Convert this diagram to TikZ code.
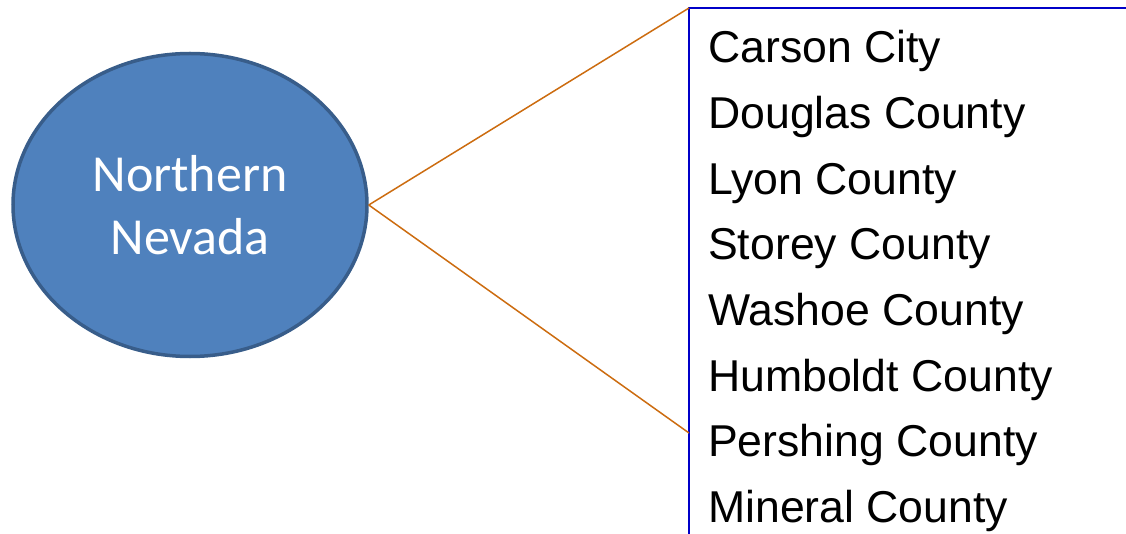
\documentclass[tikz,border=0pt]{standalone}
\usepackage{fontspec}
\setmainfont{Liberation Sans}
\newfontfamily\calibrifont{Carlito}
\usepackage{xcolor}
\usetikzlibrary{shapes.geometric}
\definecolor{regionblue}{RGB}{79,129,189}
\definecolor{regionedge}{RGB}{56,93,138}
\definecolor{calloutorange}{RGB}{204,108,16}
\definecolor{listblue}{RGB}{0,0,200}
\tikzset{
	region/.style={ellipse, fill=regionblue, draw=regionedge, line width=3.5pt,
		minimum width=354pt, minimum height=303pt, inner sep=0pt,
		text=white, align=center, font=\calibrifont\fontsize{52}{63}\selectfont},
	county/.style={anchor=base west, inner sep=0pt, font=\fontsize{44.6}{56}\selectfont},
	callout/.style={calloutorange, line width=1.5pt},
	bracket/.style={listblue, line width=2.5pt}
}

\begin{document}
\begin{tikzpicture}[x=1pt, y=-1pt]
		\useasboundingbox (0,0) rectangle (1126,534);
		\node[region] (north) at (190,205) {Northern\\Nevada};
		\coordinate (top) at (689,8);
		\coordinate (bot) at (689,433);
		\coordinate (foot) at (689,534);
		\coordinate (corner) at (1126,8);
		\draw[bracket] (foot) -- (top) -- (corner);
		\draw[callout] (north.east) -- (top);
		\draw[callout] (north.east) -- (bot);
		\node[county] (carson) at (708,63) {Carson City};
		\node[county] (douglas) at (708,128.6) {Douglas County};
		\node[county] (lyon) at (708,194.2) {Lyon County};
		\node[county] (storey) at (708,259.8) {Storey County};
		\node[county] (washoe) at (708,325.4) {Washoe County};
		\node[county] (humboldt) at (708,391) {Humboldt County};
		\node[county] (pershing) at (708,456.6) {Pershing County};
		\node[county] (mineral) at (708,522.2) {Mineral County};
	\end{tikzpicture}
\end{document}
